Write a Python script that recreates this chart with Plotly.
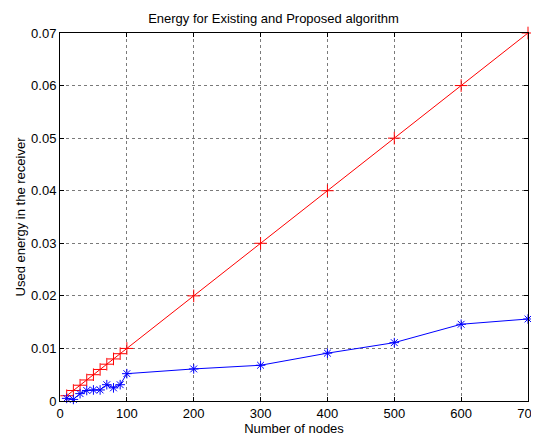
import plotly.graph_objects as go

nodes = [10, 20, 30, 40, 50, 60, 70, 80, 90, 100, 200, 300, 400, 500, 600, 700]
existing = [0.001, 0.002, 0.003, 0.004, 0.005, 0.006, 0.007, 0.008, 0.009, 0.010,
            0.020, 0.030, 0.040, 0.050, 0.060, 0.070]
proposed = [0.0005, 0.0003, 0.0014, 0.0020, 0.0021, 0.0021, 0.0031, 0.0025, 0.0031, 0.0052,
            0.0061, 0.0068, 0.0091, 0.0111, 0.0146, 0.0156]
x_ticks = [0, 100, 200, 300, 400, 500, 600, 700]
y_ticks = [0, 0.01, 0.02, 0.03, 0.04, 0.05, 0.06, 0.07]
y_tick_labels = ["0", "0.01", "0.02", "0.03", "0.04", "0.05", "0.06", "0.07"]

FONT = "Liberation Sans, Arial, sans-serif"
FS = 13

fig = go.Figure()
fig.add_trace(go.Scatter(
    x=nodes, y=existing, mode="lines+markers",
    line=dict(color="red", width=1),
    marker=dict(symbol="cross-thin-open", size=9, line=dict(color="red", width=1), color="red"),
    showlegend=False, cliponaxis=False,
))
fig.add_trace(go.Scatter(
    x=nodes, y=proposed, mode="lines+markers",
    line=dict(color="blue", width=1),
    marker=dict(symbol="asterisk-open", size=8, line=dict(color="blue", width=1), color="blue"),
    showlegend=False, cliponaxis=False,
))

axis_common = dict(
    showline=True, linecolor="black", linewidth=1, mirror="ticks",
    ticks="inside", ticklen=4, tickcolor="black",
    showgrid=True, gridcolor="#7a7a7a", griddash="dot", gridwidth=1,
    zeroline=False, automargin=False,
    tickfont=dict(family=FONT, size=FS, color="black"),
)

fig.update_xaxes(range=[0, 700], tickvals=x_ticks,
                 title=dict(text="Number of nodes", standoff=2,
                            font=dict(family=FONT, size=FS, color="black")),
                 **axis_common)
fig.update_yaxes(range=[0, 0.07], tickvals=y_ticks, ticktext=y_tick_labels,
                 title=dict(text="Used energy in the receiver", standoff=2,
                            font=dict(family=FONT, size=FS, color="black")),
                 **axis_common)

# page body has a default 8px margin, so the figure is sized to fit the window
fig.update_layout(
    width=531, height=428,
    margin=dict(l=52, r=11, t=25, b=35),
    paper_bgcolor="white", plot_bgcolor="white",
    title=dict(text="Energy for Existing and Proposed algorithm", x=0.5, xanchor="center",
               y=1 - 10 / 428, yanchor="middle",
               font=dict(family=FONT, size=FS, color="black")),
)

fig.write_html("out.html", config={"displayModeBar": False})
